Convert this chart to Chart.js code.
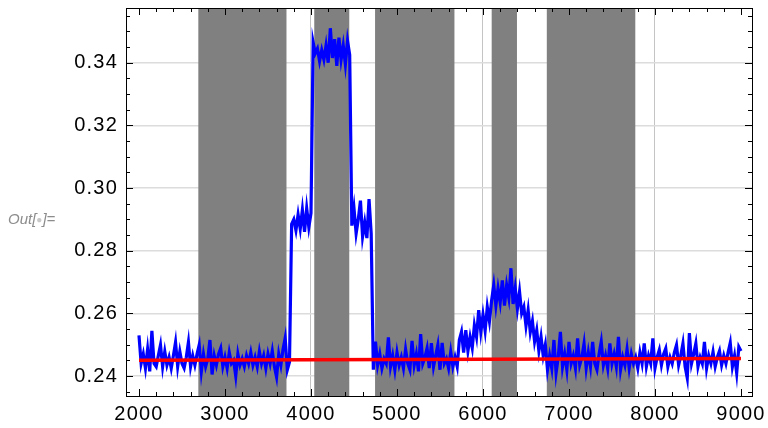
<!DOCTYPE html>
<html>
<head>
<meta charset="utf-8">
<script src="https://cdn.jsdelivr.net/npm/chart.js@4.4.1/dist/chart.umd.min.js"></script>
<style>
  body { margin: 0; background: #ffffff; }
  #wrap { position: relative; width: 768px; height: 428px; }
  #out-label {
    position: absolute; left: 8px; top: 211px; line-height: 15px;
    font-family: "Liberation Sans", Arial, sans-serif; font-style: italic;
    font-size: 15px; color: #8c8c8c; white-space: nowrap;
  }
  #out-label span { color: #c8c8c8; font-size: 10px; vertical-align: 1px; }
</style>
</head>
<body>
<div id="wrap">
  <canvas id="grafica" width="768" height="428"></canvas>
  <div id="out-label">Out[<span>●</span>]=</div>
</div>
<script>
// --- Datos ---
const xTickValues = [2000, 3000, 4000, 5000, 6000, 7000, 8000, 9000];
const yTickValues = [0.24, 0.26, 0.28, 0.30, 0.32, 0.34];
const xGridValues = [4000, 6000, 8000];

// zonas grises (inicio, fin)
const shadedRanges = [
  [2690, 3715],
  [4038, 4445],
  [4745, 5668],
  [6101, 6395],
  [6742, 7771]
];

// serie azul, muestreada cada 25 desde 2000 hasta 9000
const sampleStart = 2000;
const sampleStep = 25;
const blueSeries = [
  // 2000 - 2975
  0.2530, 0.2440, 0.2470, 0.2425, 0.2485, 0.2415, 0.2544, 0.2440, 0.2430, 0.2465,
  0.2499, 0.2430, 0.2478, 0.2435, 0.2460, 0.2425, 0.2465, 0.2508, 0.2430, 0.2478,
  0.2440, 0.2425, 0.2460, 0.2508, 0.2430, 0.2465, 0.2435, 0.2470, 0.2499, 0.2415,
  0.2470, 0.2430, 0.2455, 0.2515, 0.2405, 0.2465, 0.2435, 0.2470, 0.2489, 0.2430,
  // 3000 - 3750
  0.2460, 0.2425, 0.2475, 0.2440, 0.2450, 0.2400, 0.2470, 0.2435, 0.2455, 0.2430,
  0.2465, 0.2440, 0.2475, 0.2435, 0.2460, 0.2430, 0.2478, 0.2440, 0.2465, 0.2425,
  0.2470, 0.2440, 0.2480, 0.2430, 0.2397, 0.2470, 0.2435, 0.2485, 0.2521, 0.2420,
  0.2445,
  // 3775 - 4000
  0.2885, 0.2900, 0.2865, 0.2915, 0.2870, 0.2930, 0.2860, 0.2935, 0.2875, 0.2920,
  // 4025 - 4450
  0.3465, 0.3430, 0.3445, 0.3405, 0.3440, 0.3410, 0.3455, 0.3400, 0.3510, 0.3415,
  0.3475, 0.3390, 0.3480, 0.3410, 0.3455, 0.3395, 0.3470, 0.3425,
  // 4475 - 4700
  0.2880, 0.2935, 0.2855, 0.2900, 0.2960, 0.2845, 0.2890, 0.2840, 0.2965, 0.2855,
  // 4725 - 5700
  0.2420, 0.2510, 0.2435, 0.2470, 0.2425, 0.2455, 0.2440, 0.2523, 0.2430, 0.2465,
  0.2420, 0.2475, 0.2435, 0.2460, 0.2425, 0.2485, 0.2440, 0.2420, 0.2512, 0.2435,
  0.2470, 0.2415, 0.2534, 0.2440, 0.2460, 0.2489, 0.2425, 0.2505, 0.2430, 0.2465,
  0.2499, 0.2420, 0.2506, 0.2440, 0.2455, 0.2425, 0.2477, 0.2430, 0.2460, 0.2430,
  // 5725 - 6750
  0.2515, 0.2541, 0.2475, 0.2546, 0.2480, 0.2525, 0.2490, 0.2562, 0.2525, 0.2610,
  0.2540, 0.2595, 0.2545, 0.2620, 0.2575, 0.2640, 0.2690, 0.2625, 0.2680, 0.2635,
  0.2705, 0.2625, 0.2690, 0.2650, 0.2744, 0.2630, 0.2680, 0.2615, 0.2669, 0.2600,
  0.2620, 0.2560, 0.2610, 0.2540, 0.2575, 0.2510, 0.2546, 0.2480, 0.2525, 0.2465,
  0.2500, 0.2420,
  // 6775 - 9000
  0.2465, 0.2425, 0.2515, 0.2410, 0.2460, 0.2541, 0.2430, 0.2470, 0.2420, 0.2509,
  0.2440, 0.2465, 0.2425, 0.2520, 0.2435, 0.2460, 0.2504, 0.2425, 0.2475, 0.2430,
  0.2509, 0.2440, 0.2420, 0.2470, 0.2509, 0.2435, 0.2465, 0.2425, 0.2504, 0.2440,
  0.2470, 0.2430, 0.2525, 0.2420, 0.2460, 0.2435, 0.2485, 0.2425, 0.2470, 0.2440,
  0.2460, 0.2425, 0.2475, 0.2440, 0.2504, 0.2430, 0.2465, 0.2440, 0.2520, 0.2425,
  0.2460, 0.2483, 0.2435, 0.2470, 0.2488, 0.2430, 0.2460, 0.2440, 0.2475, 0.2499,
  0.2435, 0.2465, 0.2504, 0.2430, 0.2394, 0.2537, 0.2440, 0.2470, 0.2504, 0.2430,
  0.2460, 0.2440, 0.2509, 0.2425, 0.2465, 0.2440, 0.2477, 0.2430, 0.2460, 0.2480,
  0.2435, 0.2465, 0.2440, 0.2475, 0.2506, 0.2430, 0.2465, 0.2409, 0.2493, 0.2480
];

// linea roja (ajuste)
const redLineX = [2000, 9000];
const redLineY = [0.2450, 0.2456];

// --- Puntos para Chart.js ---
const bluePoints = blueSeries.map((v, i) => ({ x: sampleStart + i * sampleStep, y: v }));
const redPoints = redLineX.map((x, i) => ({ x: x, y: redLineY[i] }));

// --- Plugin: zonas grises detras de las lineas ---
const zonasPlugin = {
  id: 'zonas',
  beforeDatasetsDraw(chart) {
    const { ctx, chartArea, scales } = chart;
    ctx.save();
    ctx.fillStyle = '#808080';
    shadedRanges.forEach(r => {
      const x1 = scales.x.getPixelForValue(r[0]);
      const x2 = scales.x.getPixelForValue(r[1]);
      ctx.fillRect(x1, chartArea.top, x2 - x1, chartArea.bottom - chartArea.top);
    });
    ctx.restore();
  }
};

// --- Plugin: marco con marcas hacia adentro ---
const marcoPlugin = {
  id: 'marco',
  beforeDraw(chart) {
    chart.ctx.letterSpacing = '1.2px';
  },
  afterDraw(chart) {
    const { ctx, chartArea, scales } = chart;
    const a = chartArea;
    ctx.save();
    ctx.letterSpacing = '0px';
    ctx.strokeStyle = '#000000';
    ctx.lineWidth = 1;
    ctx.beginPath();
    // marcas en x
    for (let v = 2000; v <= 9000; v += 200) {
      const px = Math.round(scales.x.getPixelForValue(v)) + 0.5;
      const len = v % 1000 === 0 ? 7 : 4;
      ctx.moveTo(px, a.bottom); ctx.lineTo(px, a.bottom - len);
      ctx.moveTo(px, a.top); ctx.lineTo(px, a.top + len);
    }
    // marcas en y
    for (let k = 235; k <= 355; k += 5) {
      const py = Math.round(scales.y.getPixelForValue(k / 1000)) + 0.5;
      const len = k % 20 === 0 ? 7 : 4;
      ctx.moveTo(a.left, py); ctx.lineTo(a.left + len, py);
      ctx.moveTo(a.right, py); ctx.lineTo(a.right - len, py);
    }
    ctx.stroke();
    ctx.strokeRect(Math.round(a.left) + 0.5, Math.round(a.top) + 0.5,
                   Math.round(a.right - a.left), Math.round(a.bottom - a.top));
    ctx.restore();
  }
};

const fuente = { family: '"Liberation Sans", Arial, sans-serif', size: 20 };

new Chart(document.getElementById('grafica').getContext('2d'), {
  type: 'scatter',
  data: {
    datasets: [
      {
        data: redPoints,
        showLine: true,
        borderColor: '#ff0000',
        borderWidth: 3.5,
        pointRadius: 0
      },
      {
        data: bluePoints,
        showLine: true,
        borderColor: '#0000ff',
        borderWidth: 3.2,
        pointRadius: 0,
        tension: 0
      }
    ]
  },
  options: {
    responsive: false,
    animation: false,
    devicePixelRatio: 1,
    layout: { padding: { top: 8, right: 16, left: 0, bottom: 0 } },
    plugins: {
      legend: { display: false },
      tooltip: { enabled: false }
    },
    scales: {
      x: {
        type: 'linear',
        min: 1849,
        max: 9128,
        afterBuildTicks: s => { s.ticks = xTickValues.map(v => ({ value: v })); },
        afterFit: s => { s.height = 32; s.paddingLeft = 0; s.paddingRight = 0; },
        border: { display: false },
        grid: {
          drawTicks: false,
          lineWidth: 1,
          color: c => xGridValues.includes(c.tick && c.tick.value) ? '#c4c4c4' : 'rgba(0,0,0,0)'
        },
        ticks: {
          color: '#000000',
          font: fuente,
          padding: 6,
          maxRotation: 0,
          autoSkip: false,
          callback: v => String(v)
        }
      },
      y: {
        type: 'linear',
        min: 0.23362,
        max: 0.35746,
        afterBuildTicks: s => { s.ticks = yTickValues.map(v => ({ value: v })); },
        afterFit: s => { s.width = 126; s.paddingTop = 0; s.paddingBottom = 0; },
        border: { display: false },
        grid: {
          drawTicks: false,
          lineWidth: 1.5,
          color: '#dcdcdc'
        },
        ticks: {
          color: '#000000',
          font: fuente,
          padding: 8,
          callback: v => v.toFixed(2)
        }
      }
    }
  },
  plugins: [zonasPlugin, marcoPlugin]
});
</script>
</body>
</html>
